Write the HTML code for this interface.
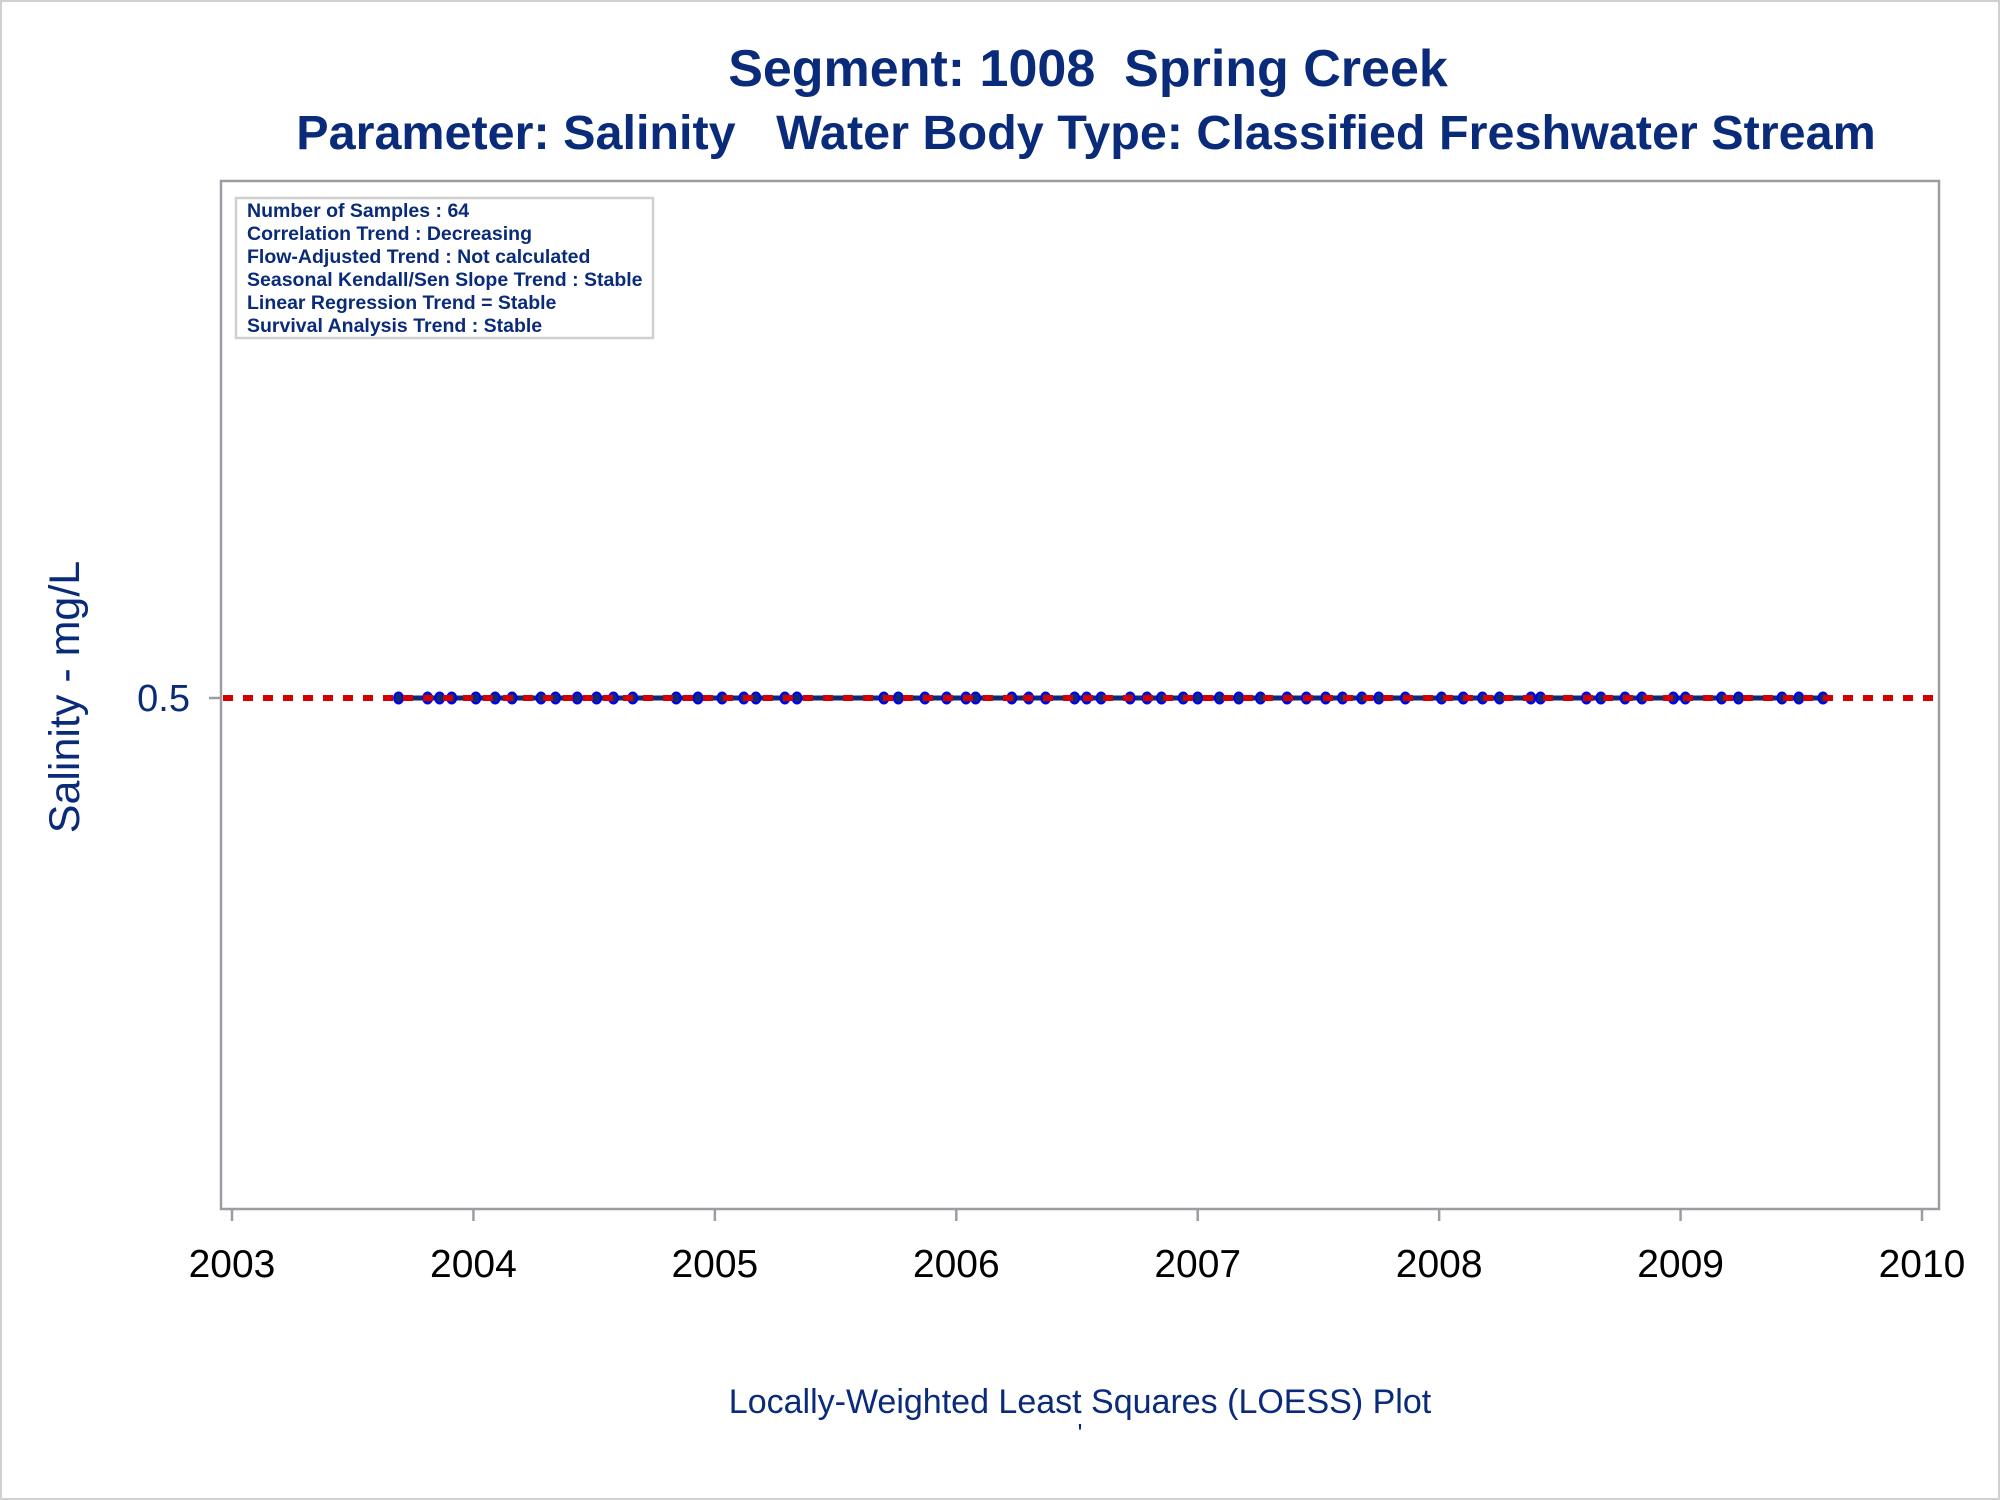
<!DOCTYPE html>
<html><head><meta charset="utf-8"><style>
body{margin:0;background:#fff}
svg{display:block;font-family:"Liberation Sans",Arial,sans-serif}
</style></head><body>
<svg id="chart" width="2000" height="1500" viewBox="0 0 2000 1500">
<rect x="1" y="1" width="1998" height="1498" fill="#fff" stroke="#d0d0d0" stroke-width="2"/>
<text x="1088" y="86" text-anchor="middle" font-size="52" font-weight="bold" fill="#0a2b7a" xml:space="preserve">Segment: 1008  Spring Creek</text>
<text x="1086" y="149" text-anchor="middle" font-size="48.5" font-weight="bold" fill="#0a2b7a" xml:space="preserve">Parameter: Salinity   Water Body Type: Classified Freshwater Stream</text>
<rect x="221" y="181" width="1718" height="1028" fill="#fff" stroke="#9a9ea3" stroke-width="2.5"/>
<g>
<rect x="236" y="198" width="417" height="140" fill="#fff" stroke="#d0d0d0" stroke-width="2.5"/>
<g font-size="19.5" font-weight="bold" fill="#0a2b7a">
<text x="247" y="217">Number of Samples : 64</text>
<text x="247" y="240">Correlation Trend : Decreasing</text>
<text x="247" y="263">Flow-Adjusted Trend : Not calculated</text>
<text x="247" y="286">Seasonal Kendall/Sen Slope Trend : Stable</text>
<text x="247" y="309">Linear Regression Trend = Stable</text>
<text x="247" y="332">Survival Analysis Trend : Stable</text>
</g></g>
<g id="xaxis"></g>
<g id="yaxis"></g>
<g id="marks"></g>
<text x="0" y="0" transform="translate(79,697) rotate(-90)" text-anchor="middle" font-size="43" fill="#0a2b7a">Salinity - mg/L</text>
<text x="1080" y="1413" text-anchor="middle" font-size="34" fill="#0a2b7a">Locally-Weighted Least Squares (LOESS) Plot</text>
<text x="1080" y="1442" text-anchor="middle" font-size="26" fill="#0a2b7a">'</text>
</svg>
<script>
const sampleDates=[2003.69,2003.81,2003.86,2003.91,2004.01,2004.09,2004.16,2004.28,2004.34,2004.43,2004.51,2004.58,2004.66,2004.84,2004.93,2005.03,2005.12,2005.17,2005.29,2005.34,2005.70,2005.76,2005.87,2005.96,2006.04,2006.08,2006.23,2006.30,2006.37,2006.49,2006.54,2006.60,2006.72,2006.79,2006.85,2006.94,2007.00,2007.09,2007.17,2007.26,2007.37,2007.45,2007.53,2007.60,2007.68,2007.75,2007.86,2008.01,2008.10,2008.18,2008.25,2008.38,2008.42,2008.61,2008.67,2008.77,2008.84,2008.97,2009.02,2009.17,2009.24,2009.42,2009.49,2009.59];
const salinityValues=sampleDates.map(()=>0.5);
const loessValues=salinityValues.slice();
const referenceValue=0.5;
const xTicks=[2003,2004,2005,2006,2007,2008,2009,2010];
const yTicks=[0.5];

const NS="http://www.w3.org/2000/svg";
const X0=221,X1=1939,Y0=1209,Y1=181;
function xs(v){return 232+(v-2003)*(1922-232)/7;}
function ys(v){return 698-(v-0.5)*(1209-181)/0.22;}
function mk(tag,attrs,parent){const e=document.createElementNS(NS,tag);for(const k in attrs)e.setAttribute(k,attrs[k]);parent.appendChild(e);return e;}
const xa=document.getElementById('xaxis'),ya=document.getElementById('yaxis'),mg=document.getElementById('marks');
xTicks.forEach(t=>{
  const l=mk('line',{x1:xs(t),x2:xs(t),y1:Y0,y2:Y0+12,stroke:'#9a9ea3','stroke-width':2.5},xa);
  
  
  const tx=mk('text',{x:xs(t),y:1277,'text-anchor':'middle','font-size':39,fill:'#000'},xa);
  tx.textContent=t;
  
  
});
yTicks.forEach(t=>{
  const l=mk('line',{x1:X0-12,x2:X0,y1:ys(t),y2:ys(t),stroke:'#9a9ea3','stroke-width':2.5},ya);
  
  
  const tx=mk('text',{x:190,y:ys(t)+13,'text-anchor':'end','font-size':38,fill:'#0a2b7a'},ya);
  tx.textContent=t;
  
  
});
const pts=sampleDates.map((d,i)=>xs(d)+','+ys(loessValues[i])).join(' ');
const pl=mk('polyline',{points:pts,fill:'none',stroke:'#0a2b7a','stroke-width':5},mg);


sampleDates.forEach((d,i)=>{
  const c=mk('ellipse',{cx:xs(d),cy:ys(salinityValues[i]),rx:4.5,ry:5.5,fill:'#0a2b7a',stroke:'#0000ee','stroke-width':2},mg);
  
  
});
const rl=mk('line',{x1:X0+2,x2:X1-2,y1:ys(referenceValue),y2:ys(referenceValue),stroke:'#d40000','stroke-width':6,'stroke-dasharray':'10 10'},mg);


</script>
</body></html>
